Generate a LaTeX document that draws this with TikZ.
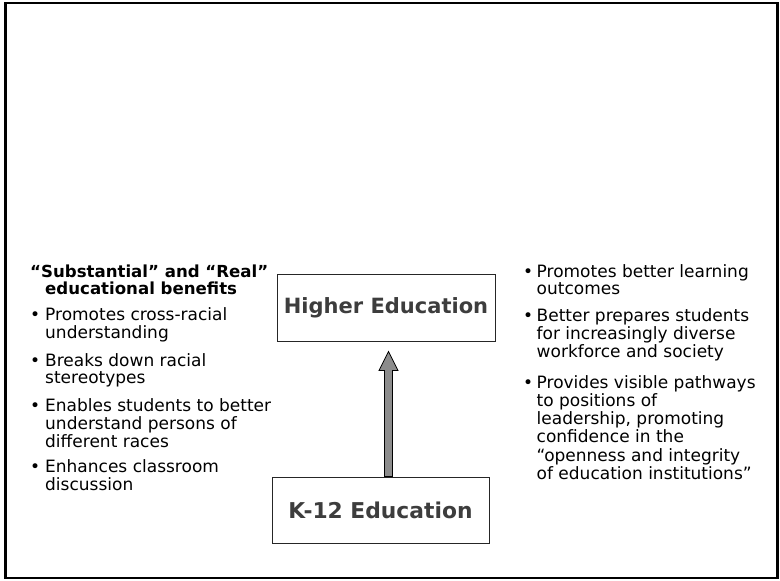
\documentclass[tikz,border=0pt]{standalone}
\usepackage{fontspec}
\setmainfont{DejaVu Sans}
\usetikzlibrary{calc}
\newcommand{\bodyfont}{\fontsize{17}{17.8}\selectfont}
\newcommand{\headfont}{\fontsize{16.6}{17}\selectfont\bfseries}
\newcommand{\boxfont}{\fontsize{21}{22}\selectfont\bfseries}
\tikzset{
  frame/.style={draw=black, line width=2.6pt},
  edbox/.style={draw=black!85, line width=1pt, minimum width=218pt, minimum height=67pt, inner sep=0pt, font=\boxfont, text=black!76},
  itemtext/.style={anchor=base west, inner sep=0pt, font=\bodyfont},
  blockarrow/.style={draw=black, line width=0.8pt, fill=black!45, line join=miter}
}
\begin{document}
\begin{tikzpicture}[x=1pt,y=-1pt]
\useasboundingbox (0,0) rectangle (780,581);
\draw[frame] (5.5,3) rectangle (777.5,578);

% boxes
\node[edbox] (he) at (386,307.5) {Higher Education};
\node[edbox, minimum width=217pt, minimum height=66pt, font=\fontsize{21.8}{22}\selectfont\bfseries] (k12) at (380.5,510) {K-12 Education};

% block arrow from K-12 to Higher Education
\coordinate (atail) at (k12.north -| 388.5,0);
\coordinate (atip) at ($(he.south -| 388.5,0)+(0,10)$);
\draw[blockarrow] ($(atail)+(-4,0)$) -- ($(atip)+(-4,19)$) -- ($(atip)+(-9.5,19)$) -- (atip)
  -- ($(atip)+(9.5,19)$) -- ($(atip)+(4,19)$) -- ($(atail)+(4,0)$) -- cycle;

% left column
\node[itemtext, font=\headfont] (lhead) at (30,277)
  {\begin{tabular}[t]{@{}l@{}}“Substantial” and “Real”\\\hspace{15pt}educational benefits\end{tabular}};
\node[itemtext] (l1) at (30,320)
  {\begin{tabular}[t]{@{}l@{}}\makebox[15pt][l]{•}Promotes cross-racial\\\hspace{15pt}understanding\end{tabular}};
\node[itemtext] (l2) at (30,366)
  {\begin{tabular}[t]{@{}l@{}}\makebox[15pt][l]{•}Breaks down racial\\\hspace{15pt}stereotypes\end{tabular}};
\node[itemtext] (l3) at (30,411)
  {\begin{tabular}[t]{@{}l@{}}\makebox[15pt][l]{•}Enables students to better\\\hspace{15pt}understand persons of\\\hspace{15pt}different races\end{tabular}};
\node[itemtext] (l4) at (30,472)
  {\begin{tabular}[t]{@{}l@{}}\makebox[15pt][l]{•}Enhances classroom\\\hspace{15pt}discussion\end{tabular}};

% right column
\node[itemtext] (r1) at (523,277)
  {\begin{tabular}[t]{@{}l@{}}\makebox[13.5pt][l]{•}Promotes better learning\\\hspace{13.5pt}outcomes\end{tabular}};
\node[itemtext] (r2) at (523,321)
  {\begin{tabular}[t]{@{}l@{}}\makebox[13.5pt][l]{•}Better prepares students\\\hspace{13.5pt}for increasingly diverse\\\hspace{13.5pt}workforce and society\end{tabular}};
\node[itemtext] (r3) at (523,388)
  {\begin{tabular}[t]{@{}l@{}}\makebox[13.5pt][l]{•}Provides visible pathways\\\hspace{13.5pt}to positions of\\\hspace{13.5pt}leadership, promoting\\\hspace{13.5pt}confidence in the\\\hspace{13.5pt}“openness and integrity\\\hspace{13.5pt}of education institutions”\end{tabular}};
\end{tikzpicture}
\end{document}
